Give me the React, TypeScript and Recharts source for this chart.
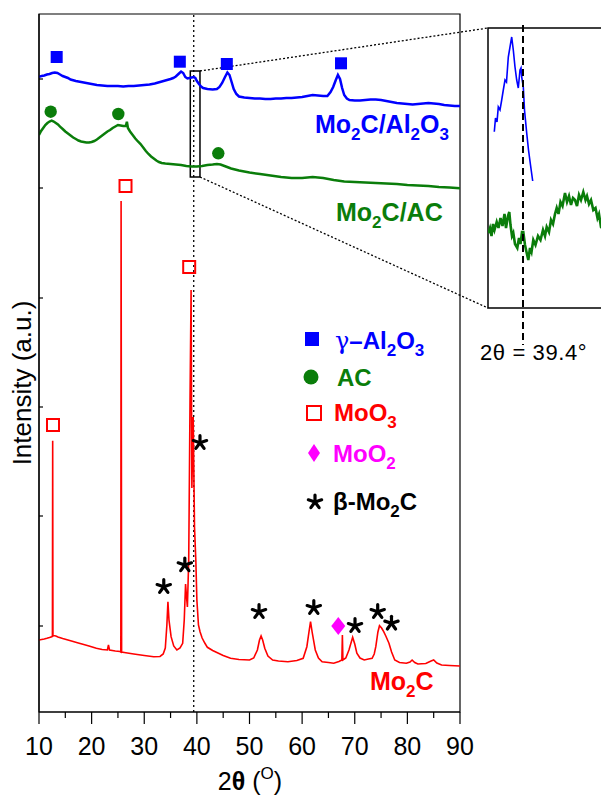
import React from 'react';
import {
  ComposedChart,
  LineChart,
  Line,
  Scatter,
  XAxis,
  YAxis,
  ReferenceLine,
  ReferenceArea,
  Customized,
} from 'recharts';

const FONT = '"Liberation Sans", Arial, Helvetica, sans-serif';
const BLUE = '#0000ff';
const GREEN = '#0a7d0a';
const RED = '#ff0000';
const MAGENTA = '#ff00ff';

// ---- axis ticks ----
const xTicks = [10, 15, 20, 25, 30, 35, 40, 45, 50, 55, 60, 65, 70, 75, 80, 85, 90];
const yTicks = [86, 196, 305, 414, 524, 633];

// ---- scans: [2θ (deg), intensity (a.u.)] ----
const scanAl2O3: [number, number][] = [
  [10, 635.3], [10.5, 636], [11, 636.5], [11.5, 637.5], [12, 638], [12.5, 639], [13, 639.5], [13.5, 639],
  [14, 637.5], [14.5, 636], [15, 635], [15.5, 634], [16, 632.5], [17, 631], [18, 630], [19, 629], [20, 628],
  [21, 627], [22, 626.5], [23, 626], [24, 626], [25, 626], [26, 625.5], [27, 626], [28, 626], [29, 626.5],
  [30, 627], [31, 627.5], [32, 628.5], [33, 630], [34, 631.5], [35, 633], [35.5, 634], [36, 635.5],
  [36.5, 638], [37, 640.5], [37.4, 639], [37.8, 635], [38.2, 633.5], [38.6, 634], [39, 634.5], [39.4, 635],
  [39.7, 634], [40, 631], [40.4, 628], [40.8, 625.5], [41.2, 624], [42, 623], [43, 622.5], [43.8, 623],
  [44.3, 625], [44.8, 629], [45.3, 634.5], [45.8, 639.5], [46.2, 637], [46.6, 630], [47, 623], [47.5, 618],
  [48, 615.5], [49, 614.5], [50, 614], [51, 613.5], [52, 613.5], [53, 613], [54, 613], [55, 613.5],
  [56, 613.5], [57, 614], [58, 614], [59, 614.5], [60, 615], [61, 616], [62, 617], [63, 616.5], [64, 616],
  [64.8, 616], [65.4, 620], [65.9, 625], [66.4, 632], [66.8, 637], [67.2, 633], [67.6, 624], [68, 617],
  [68.5, 613.5], [69, 612], [70, 611.5], [71, 611.5], [72, 612], [73, 612.5], [74, 612.5], [75, 612],
  [76, 611], [77, 610], [78, 609], [79, 608.5], [80, 608], [81, 607.5], [82, 608], [83, 608.5], [84, 609],
  [85, 608.5], [86, 608], [87, 607], [88, 606.5], [89, 606], [90, 606],
];

const scanAC: [number, number][] = [
  [10, 577], [10.4, 581], [10.8, 584], [11.2, 587], [11.6, 589], [12, 590.5], [12.4, 591.3], [12.8, 590.5],
  [13.2, 589], [13.6, 587.5], [14, 585.3], [14.5, 583], [15, 580.5], [15.5, 578.5], [16, 576.5], [16.5, 574.5],
  [17, 573], [17.5, 571.5], [18, 570.5], [18.5, 570], [19, 569.5], [19.5, 569.5], [20, 570], [20.5, 571],
  [21, 572.5], [21.5, 574.5], [22, 576.5], [22.5, 578.5], [23, 580.5], [23.5, 582], [24, 584], [24.5, 585.5],
  [25, 587], [25.5, 586.5], [26, 586], [26.5, 586], [26.7, 590.3], [26.9, 584], [27.3, 580.5], [27.8, 577],
  [28.3, 573.5], [28.8, 570.5], [29.3, 568], [29.8, 564.5], [30.3, 561], [30.8, 558], [31.3, 555.5],
  [31.8, 553.5], [32.3, 551.5], [32.8, 550], [33.3, 549], [34, 548.5], [35, 548], [36, 547.5], [37, 547],
  [38, 546], [39, 545.5], [40, 545.5], [41, 546], [42, 547], [43, 547.5], [43.8, 548], [44.5, 547.5],
  [45.5, 545.5], [46.5, 543.5], [48, 541.5], [50, 539.5], [52, 538], [54, 536.5], [56, 535], [58, 534],
  [60, 534], [62, 535], [64, 534], [66, 532], [68, 530.5], [70, 530], [72, 529.5], [74, 529], [76, 528.5],
  [78, 528], [80, 527], [82, 526.5], [84, 526], [86, 525], [88, 524.5], [90, 523.7],
];

const scanMo2C: [number, number][] = [
  [10, 72], [10.5, 72.5], [11, 73], [11.5, 73.7], [12, 74.5], [12.4, 75.3], [12.55, 76], [12.6, 271.3],
  [12.65, 76], [12.8, 76.5], [13.2, 76], [13.6, 75], [14.5, 73.5], [15.5, 72], [16.5, 70.5], [17.3, 69.3],
  [18.5, 67.5], [19.5, 66], [20.9, 63.7], [22, 62.5], [23, 62], [23.2, 67], [23.4, 62], [24.5, 61],
  [25.4, 60.5], [25.55, 60], [25.6, 511], [25.7, 60], [26.5, 59.3], [28, 58], [30, 56.5], [31.8, 55.3],
  [33, 55.5], [33.6, 58], [34, 64], [34.3, 87], [34.5, 110.3], [34.7, 92], [35.1, 75.3], [35.6, 66],
  [36.2, 62], [36.8, 64], [37.3, 68.7], [37.6, 92], [37.85, 128], [38.05, 114], [38.2, 105], [38.45, 152],
  [38.7, 312], [38.9, 422], [39.05, 224], [39.3, 295], [39.55, 185], [39.8, 152], [40, 112], [40.3, 87],
  [40.6, 80.3], [41, 74], [41.5, 69], [42, 64.7], [43, 61.5], [44, 59], [45, 56.5], [46.4, 53.7],
  [48, 52.5], [50, 52], [50.8, 54], [51.5, 62], [51.9, 72], [52.2, 76], [52.5, 72], [52.9, 63.7],
  [53.5, 56], [54.4, 52], [55.5, 51], [57.3, 50.3], [59, 51.5], [60.2, 53.7], [60.9, 65.3], [61.3, 80],
  [61.6, 90.3], [61.9, 80], [62.5, 62], [63.1, 54], [63.8, 50.3], [65, 49.5], [66, 48.7], [67, 50.5],
  [67.55, 52], [67.65, 77], [67.75, 52], [68.3, 54], [68.9, 62], [69.6, 74.7], [70, 68], [70.4, 58.7],
  [71, 54], [71.8, 52], [72.6, 53], [73.3, 53.7], [73.7, 58], [74, 65.3], [74.4, 80], [74.7, 86.3],
  [75.1, 84], [75.5, 80.3], [75.9, 76], [76.5, 68.7], [77, 60], [77.6, 52], [78.5, 49.5], [79.8, 48.7],
  [80.5, 50], [80.9, 52], [81.4, 49.5], [82, 48], [83.5, 48.5], [84.5, 51], [85, 52], [85.6, 49],
  [86.5, 47], [88, 46.5], [90, 46],
];

// ---- phase markers: [2θ, height] ----
const markAl2O3: [number, number][] = [[13.36, 655], [36.76, 650.3], [45.69, 648], [67.39, 648.7]];
const markAC: [number, number][] = [[12.22, 600.3], [25.07, 598], [44.07, 558.7]];
const markMoO3: [number, number][] = [[12.66, 287], [26.44, 526], [38.54, 445]];
const markMoO2: [number, number][] = [[66.87, 86]];
const markBetaMo2C: [number, number][] = [
  [33.71, 125.3], [37.71, 147], [40.59, 269.3], [51.81, 100.3], [62.22, 104.3], [70.05, 86.3], [74.36, 100.3], [76.98, 88.7],
];

// ---- zoom window & inset ----
const refAngle = 39.4;
const zoomBox = { x1: 38.75, x2: 40.59, y1: 535, y2: 641 };
const insetAnchor = { x: 95.32, yTop: 684, yBottom: 404 };
const insetDomainX: [number, number] = [39.05, 41.05];
const insetDomainY: [number, number] = [0, 280];

const insetAl2O3: [number, number][] = [
  [39.113, 176.3], [39.125, 190], [39.14, 186], [39.153, 201], [39.17, 198], [39.187, 208], [39.203, 218],
  [39.22, 228], [39.235, 226], [39.253, 251], [39.27, 261], [39.287, 271], [39.303, 258], [39.32, 241],
  [39.337, 228], [39.353, 220], [39.37, 238], [39.38, 240], [39.387, 231], [39.403, 221], [39.415, 198],
  [39.437, 175], [39.455, 158], [39.475, 143], [39.497, 127],
];
const insetAC: [number, number][] = [
  [39.053, 75], [39.07, 80], [39.085, 72], [39.1, 84], [39.115, 78], [39.137, 86], [39.155, 80], [39.175, 90],
  [39.195, 82], [39.215, 94], [39.23, 80], [39.25, 92], [39.263, 96], [39.275, 83], [39.29, 72], [39.303, 75],
  [39.32, 64], [39.343, 60], [39.36, 70], [39.375, 64], [39.39, 76], [39.403, 76], [39.42, 63], [39.435, 56],
  [39.453, 48], [39.47, 60], [39.485, 56], [39.503, 68], [39.525, 63], [39.55, 72], [39.575, 68], [39.6, 78],
  [39.62, 72], [39.637, 81], [39.66, 76], [39.68, 88], [39.7, 84], [39.72, 94], [39.737, 100], [39.755, 94],
  [39.775, 106], [39.795, 102], [39.82, 115], [39.84, 106], [39.86, 112], [39.88, 103], [39.9, 110],
  [39.92, 108], [39.94, 102], [39.96, 113], [39.98, 108], [40.003, 116], [40.025, 108], [40.04, 112],
  [40.06, 104], [40.08, 108], [40.103, 98], [40.125, 100], [40.145, 90], [40.16, 94], [40.18, 81], [40.22, 78],
];

const pts = (a: [number, number][]) => a.map(([x, y]) => ({ x, y }));

// ---- marker shapes ----
const FilledSquare = (p: any) => <rect x={p.cx - 6} y={p.cy - 6} width={12} height={12} fill={BLUE} />;
const FilledCircle = (p: any) => <circle cx={p.cx} cy={p.cy} r={6.2} fill={GREEN} />;
const OpenSquare = (p: any) => (
  <rect x={p.cx - 6} y={p.cy - 6} width={12} height={12} fill="#fff" fillOpacity={0} stroke={RED} strokeWidth={2} />
);
const Diamond = (p: any) => (
  <path d={`M${p.cx},${p.cy - 9} L${p.cx + 7},${p.cy} L${p.cx},${p.cy + 9} L${p.cx - 7},${p.cy} Z`} fill={MAGENTA} />
);
const starArms = [-90, -18, 54, 126, 198];
const StarGlyph = ({ cx, cy, r = 7 }: { cx: number; cy: number; r?: number }) => (
  <g>
    {starArms.map((a) => (
      <line
        key={a}
        x1={cx}
        y1={cy}
        x2={cx + r * Math.cos((a * Math.PI) / 180)}
        y2={cy + r * Math.sin((a * Math.PI) / 180)}
        stroke="#000"
        strokeWidth={3.2}
        strokeLinecap="round"
      />
    ))}
  </g>
);
const Star = (p: any) => <StarGlyph cx={p.cx} cy={p.cy} />;

// ---- axis ticks ----
const XTick = (props: any) => {
  const { x, y, payload } = props;
  const v = payload.value;
  const major = v % 10 === 0;
  return (
    <g>
      <line x1={x} x2={x} y1={y} y2={y + (major ? 12 : 6)} stroke="#000" strokeWidth={1.2} />
      {major && (
        <text x={x} y={y + 43} textAnchor="middle" fontSize={25} fontFamily={FONT} fill="#000">
          {v}
        </text>
      )}
    </g>
  );
};
const YTick = (props: any) => {
  const { x, y } = props;
  return <line x1={x} x2={x + 4} y1={y} y2={y} stroke="#000" strokeWidth={1.2} />;
};

// ---- annotations ----
const MainAnnotations = () => (
  <g fontFamily={FONT}>
    <text x={315} y={133} fontSize={25} fontWeight="bold" fill={BLUE}>
      Mo<tspan dy={7} fontSize={17}>2</tspan>
      <tspan dy={-7}>C/Al</tspan>
      <tspan dy={7} fontSize={17}>2</tspan>
      <tspan dy={-7}>O</tspan>
      <tspan dy={7} fontSize={17}>3</tspan>
    </text>
    <text x={336} y={221} fontSize={25} fontWeight="bold" fill={GREEN}>
      Mo<tspan dy={7} fontSize={17}>2</tspan>
      <tspan dy={-7}>C/AC</tspan>
    </text>
    <text x={370} y={690} fontSize={25} fontWeight="bold" fill={RED}>
      Mo<tspan dy={7} fontSize={17}>2</tspan>
      <tspan dy={-7}>C</tspan>
    </text>

    {/* legend */}
    <rect x={305} y={332} width={14} height={14} fill={BLUE} />
    <text x={335} y={349} fontSize={24} fill={BLUE}>
      <tspan fontFamily='"DejaVu Serif", serif'>γ</tspan>
      <tspan fontWeight="bold">–Al</tspan>
      <tspan fontWeight="bold" dy={7} fontSize={17}>2</tspan>
      <tspan fontWeight="bold" dy={-7}>O</tspan>
      <tspan fontWeight="bold" dy={7} fontSize={17}>3</tspan>
    </text>
    <circle cx={311} cy={377} r={7.5} fill={GREEN} />
    <text x={337} y={386} fontSize={24} fontWeight="bold" fill={GREEN}>AC</text>
    <rect x={307} y={406} width={14} height={14} fill="none" stroke={RED} strokeWidth={2} />
    <text x={334} y={421} fontSize={24} fontWeight="bold" fill={RED}>
      MoO<tspan dy={7} fontSize={17}>3</tspan>
    </text>
    <path d="M314,444 L320,453 L314,462 L308,453 Z" fill={MAGENTA} />
    <text x={333} y={462} fontSize={24} fontWeight="bold" fill={MAGENTA}>
      MoO<tspan dy={7} fontSize={17}>2</tspan>
    </text>
    <StarGlyph cx={315} cy={502} r={7} />
    <text x={333} y={510} fontSize={24} fontWeight="bold" fill="#000">
      β-Mo<tspan dy={7} fontSize={17}>2</tspan>
      <tspan dy={-7}>C</tspan>
    </text>

    {/* axis titles */}
    <text x={31} y={383} fontSize={26} fill="#000" textAnchor="middle" transform="rotate(-90, 31, 383)">
      Intensity (a.u.)
    </text>
    <text x={250} y={790} fontSize={25} fill="#000" textAnchor="middle">
      2<tspan fontWeight="bold">θ</tspan> (<tspan dy={-11} fontSize={17}>O</tspan>
      <tspan dy={11}>)</tspan>
    </text>
  </g>
);

const InsetAnnotations = () => (
  <text x={40} y={360} fontSize={22} letterSpacing={0.6} fontFamily={FONT} fill="#000">
    2θ = 39.4°
  </text>
);

export default function App() {
  return (
    <div style={{ position: 'absolute', left: 0, top: 0, width: 601, height: 799, overflow: 'hidden', background: '#fff' }}>
      <div style={{ position: 'absolute', left: 0, top: 0 }}>
        <ComposedChart width={601} height={799} margin={{ top: 14, right: 141, bottom: 57, left: 29 }}>
          <XAxis
            type="number"
            dataKey="x"
            domain={[10, 90]}
            ticks={xTicks}
            interval={0}
            tick={XTick}
            tickLine={false}
            tickSize={0}
            tickMargin={0}
            axisLine={{ stroke: '#000', strokeWidth: 1.2 }}
            height={30}
            allowDataOverflow
          />
          <YAxis
            type="number"
            dataKey="y"
            domain={[0, 698]}
            ticks={yTicks}
            interval={0}
            tick={YTick}
            tickLine={false}
            tickSize={0}
            tickMargin={0}
            axisLine={{ stroke: '#000', strokeWidth: 1.2 }}
            width={10}
            allowDataOverflow
          />
          <ReferenceArea x1={10} x2={90} y1={0} y2={698} fill="none" fillOpacity={0} stroke="#000" strokeWidth={1.2} />
          <ReferenceLine x={refAngle} stroke="#000" strokeWidth={1.3} strokeDasharray="2 3" />
          <Line data={pts(scanAl2O3)} dataKey="y" stroke={BLUE} strokeWidth={2.5} dot={false} activeDot={false} isAnimationActive={false} />
          <Line data={pts(scanAC)} dataKey="y" stroke={GREEN} strokeWidth={2.5} dot={false} activeDot={false} isAnimationActive={false} />
          <Line data={pts(scanMo2C)} dataKey="y" stroke={RED} strokeWidth={1.6} dot={false} activeDot={false} isAnimationActive={false} />
          <ReferenceArea
            x1={zoomBox.x1}
            x2={zoomBox.x2}
            y1={zoomBox.y1}
            y2={zoomBox.y2}
            fill="none"
            fillOpacity={0}
            stroke="#000"
            strokeWidth={1.5}
          />
          <ReferenceLine
            segment={[{ x: zoomBox.x2, y: zoomBox.y2 }, { x: insetAnchor.x, y: insetAnchor.yTop }]}
            ifOverflow="visible"
            stroke="#000"
            strokeWidth={1.3}
            strokeDasharray="2 2"
          />
          <ReferenceLine
            segment={[{ x: zoomBox.x2, y: zoomBox.y1 }, { x: insetAnchor.x, y: insetAnchor.yBottom }]}
            ifOverflow="visible"
            stroke="#000"
            strokeWidth={1.3}
            strokeDasharray="2 2"
          />
          <Scatter data={pts(markAl2O3)} shape={FilledSquare} isAnimationActive={false} />
          <Scatter data={pts(markAC)} shape={FilledCircle} isAnimationActive={false} />
          <Scatter data={pts(markMoO3)} shape={OpenSquare} isAnimationActive={false} />
          <Scatter data={pts(markMoO2)} shape={Diamond} isAnimationActive={false} />
          <Scatter data={pts(markBetaMo2C)} shape={Star} isAnimationActive={false} />
          <Customized component={MainAnnotations} />
        </ComposedChart>
      </div>
      <div style={{ position: 'absolute', left: 440, top: 0 }}>
        <LineChart width={400} height={380} margin={{ top: 28, right: 152, bottom: 72, left: 48 }}>
          <XAxis type="number" dataKey="x" domain={insetDomainX} hide allowDataOverflow />
          <YAxis type="number" dataKey="y" domain={insetDomainY} hide allowDataOverflow />
          <ReferenceArea
            x1={insetDomainX[0]}
            x2={insetDomainX[1]}
            y1={insetDomainY[0]}
            y2={insetDomainY[1]}
            fill="#fff"
            fillOpacity={1}
            stroke="#000"
            strokeWidth={1.5}
          />
          <Line data={pts(insetAl2O3)} dataKey="y" stroke={BLUE} strokeWidth={1.6} dot={false} activeDot={false} isAnimationActive={false} />
          <Line data={pts(insetAC)} dataKey="y" stroke={GREEN} strokeWidth={2.6} dot={false} activeDot={false} isAnimationActive={false} />
          <ReferenceLine
            segment={[{ x: refAngle, y: 283 }, { x: refAngle, y: -37 }]}
            ifOverflow="visible"
            stroke="#000"
            strokeWidth={2}
            strokeDasharray="7 4"
          />
          <Customized component={InsetAnnotations} />
        </LineChart>
      </div>
    </div>
  );
}
